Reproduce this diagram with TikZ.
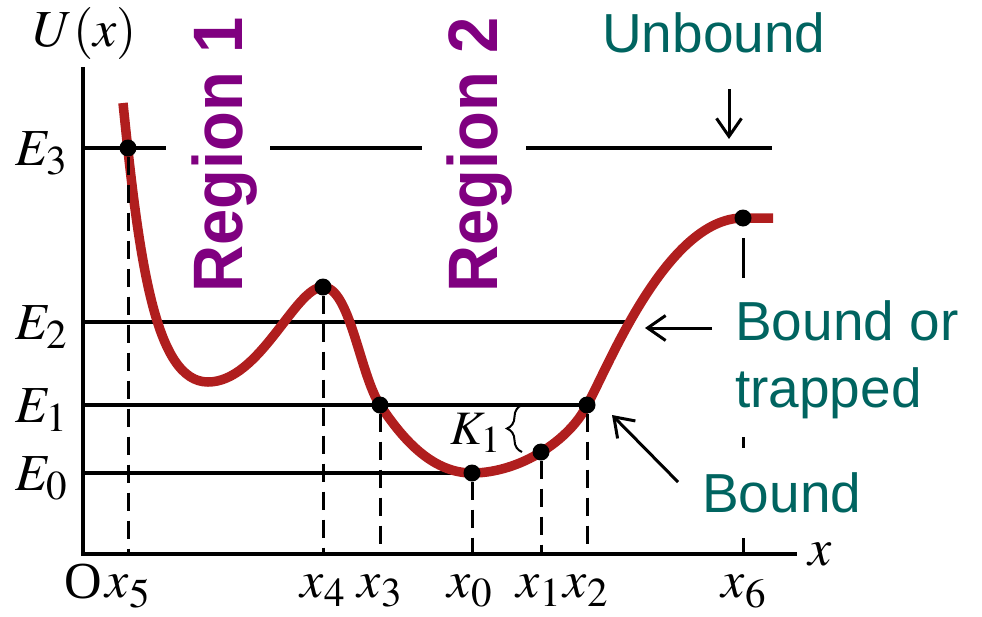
\documentclass[tikz,border=0pt]{standalone}
\usepackage{mathptmx}
\usepackage{fontspec}
\setmainfont{Liberation Serif}
\newfontfamily\arialf{Liberation Sans}
\DeclareMathSizes{52}{52}{41}{32}
\DeclareMathSizes{48}{48}{38}{30}
\usetikzlibrary{arrows.meta,decorations.pathreplacing}
\definecolor{curvered}{RGB}{176,30,30}
\definecolor{tealtxt}{RGB}{0,100,96}
\definecolor{purp}{RGB}{128,0,128}
\begin{document}
\begin{tikzpicture}[x=1pt,y=-1pt,
 axis/.style={line width=3.5pt},
 level/.style={line width=3.2pt},
 guide/.style={line width=3pt, dash pattern=on 18pt off 10pt},
 pot/.style={line width=9.5pt, color=curvered},
 dot/.style={circle, fill=black, inner sep=0pt, minimum size=17pt},
 mlab/.style={font=\fontsize{52}{60}\selectfont, inner sep=0pt},
 klab/.style={font=\fontsize{48}{56}\selectfont, inner sep=0pt},
 note/.style={font=\arialf\fontsize{55}{66}\selectfont, text=tealtxt, inner sep=0pt},
 region/.style={font=\arialf\bfseries\fontsize{70}{80}\selectfont, text=purp, rotate=90, inner sep=0pt, anchor=base},
 ptr/.style={line width=3pt, -{Straight Barb[length=18pt,width=25pt]}},
]
\useasboundingbox (0,0) rectangle (982,616);

% axes
\coordinate (O) at (83,554);
\coordinate (ytop) at (83,67);
\coordinate (xend) at (797,554);
\draw[axis] (ytop) -- (O) -- (xend);

% energy levels
\draw[level] (83,148) -- (166,148);
\draw[level] (270,148) -- (422,148);
\draw[level] (526,148) -- (772,148);
\draw[level] (83,322) -- (625,322);
\draw[level] (83,405) -- (587,405);
\draw[level] (83,473) -- (472,473);

% potential curve
\draw[pot] (123,103) .. controls (139,260) and (155,382) .. (208,382)
  .. controls (260,382) and (295,287) .. (323,287)
  .. controls (350,287) and (360,375) .. (380,405)
  .. controls (400,435) and (430,473) .. (472,473)
  .. controls (520,473) and (570,440) .. (587,405)
  .. controls (605,375) and (665,218) .. (743,218) -- (773,218);

% points
\node[dot] (p5) at (128,148) {};
\node[dot] (p4) at (323,287) {};
\node[dot] (p3) at (380,405) {};
\node[dot] (p0) at (472,473) {};
\node[dot] (p1) at (541,452) {};
\node[dot] (p2) at (587,405) {};
\node[dot] (p6) at (743,218) {};

% guides
\foreach \p in {p5,p4,p3,p0,p1,p2}{
  \draw[guide] (\p.south) -- (\p.south |- O);
}
\draw[line width=3pt, dash pattern=on 40pt off 159pt on 11pt off 90pt on 16pt] (743,238) -- (743,554);

% axis labels
\node[mlab, anchor=base] at (85,46) {$U(x)$};
\node[mlab, anchor=base] at (820,565) {$x$};
\node[mlab, anchor=base east] at (68,165) {$E_3$};
\node[mlab, anchor=base east] at (68,339) {$E_2$};
\node[mlab, anchor=base east] at (68,422) {$E_1$};
\node[mlab, anchor=base east] at (68,490) {$E_0$};
\node[mlab, anchor=base] at (83,598) {O};
\node[mlab, anchor=base] at (128,597) {$x_5$};
\node[mlab, anchor=base] at (323,597) {$x_4$};
\node[mlab, anchor=base] at (380,597) {$x_3$};
\node[mlab, anchor=base] at (470,597) {$x_0$};
\node[mlab, anchor=base] at (539,597) {$x_1$};
\node[mlab, anchor=base] at (586,597) {$x_2$};
\node[mlab, anchor=base] at (744,597) {$x_6$};

% K1 and brace
\node[klab, anchor=base west] (k1) at (450,444) {$K_1$};
\draw[line width=2pt, decorate, decoration={brace, amplitude=15pt}] (522,452) -- (522,405);

% regions
\node[region] (r1) at (242,155) {\scalebox{0.93}[1]{Region 1}};
\node[region] (r2) at (497,155) {\scalebox{0.93}[1]{Region 2}};

% notes
\node[note, anchor=base west] (unb) at (602,52) {Unbound};
\node[note, anchor=base west] (bo) at (735,340) {Bound or};
\node[note, anchor=base west] (tr) at (735,407) {trapped};
\node[note, anchor=base west] (bd) at (702,512) {Bound};

\coordinate (a1s) at (729,89);
\coordinate (a1e) at (729,139);
\coordinate (a2s) at (712,328);
\coordinate (a2e) at (645,328);
\coordinate (a3s) at (678,482);
\coordinate (a3e) at (612,415);
\draw[ptr] (a1s) -- (a1e);
\draw[ptr] (a2s) -- (a2e);
\draw[ptr] (a3s) -- (a3e);
\end{tikzpicture}
\end{document}
